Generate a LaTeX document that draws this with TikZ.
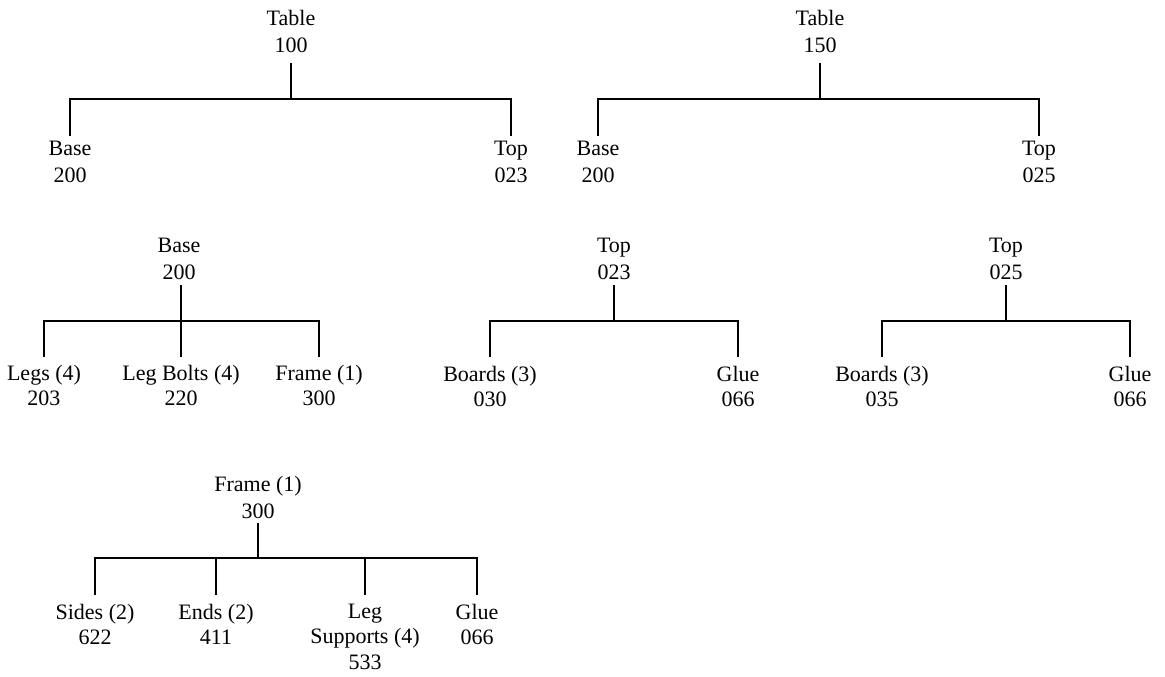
\documentclass[tikz,border=0pt]{standalone}
\usepackage{fontspec}
\setmainfont{Liberation Serif}
\begin{document}
\begin{tikzpicture}[x=1pt,y=-1pt,
  item/.style={align=center, inner sep=0pt, outer sep=0pt, anchor=north,
    font=\fontsize{22}{27.5}\selectfont},
  kid/.style={item, font=\fontsize{22}{25.5}\selectfont},
  conn/.style={line width=1.2pt, line cap=butt}]
\useasboundingbox (0,0) rectangle (1165,677);

% ---------- Tree 1: Table 100 ----------
\node[item] (t1p) at (291,10) {Table\\100};
\node[item] (t1a) at (70,141) {Base\\200};
\node[item] (t1b) at (511,141) {Top\\023};
\coordinate (s1) at (291,63);
\coordinate (b1) at (291,99);
\coordinate (e1) at (291,136);
\draw[conn] (t1p.south |- s1) -- (t1p.south |- b1);
\draw[conn] (t1a.north |- e1) |- (b1) -| (t1b.north |- e1);

% ---------- Tree 2: Table 150 ----------
\node[item] (t2p) at (820,10) {Table\\150};
\node[item] (t2a) at (598,141) {Base\\200};
\node[item] (t2b) at (1039,141) {Top\\025};
\coordinate (s2) at (820,63);
\coordinate (b2) at (820,99);
\coordinate (e2) at (820,136);
\draw[conn] (t2p.south |- s2) -- (t2p.south |- b2);
\draw[conn] (t2a.north |- e2) |- (b2) -| (t2b.north |- e2);

% ---------- Tree 3: Base 200 ----------
\node[item] (t3p) at (179,238) {Base\\200};
\node[kid] (t3a) at (44,365) {Legs (4)\\203};
\node[kid] (t3b) at (181,365) {Leg Bolts (4)\\220};
\node[kid] (t3c) at (319,365) {Frame (1)\\300};
\coordinate (s3) at (181,285);
\coordinate (b3) at (181,321);
\coordinate (e3) at (181,357);
\draw[conn] (t3b.north |- s3) -- (b3);
\draw[conn] (t3a.north |- e3) |- (b3) -| (t3c.north |- e3);
\draw[conn] (t3b.north |- e3) -- (b3);

% ---------- Tree 4: Top 023 ----------
\node[item] (t4p) at (614,238) {Top\\023};
\node[kid] (t4a) at (490,366) {Boards (3)\\030};
\node[kid] (t4b) at (738,366) {Glue\\066};
\coordinate (s4) at (614,285);
\coordinate (b4) at (614,321);
\coordinate (e4) at (614,357);
\draw[conn] (t4p.south |- s4) -- (t4p.south |- b4);
\draw[conn] (t4a.north |- e4) |- (b4) -| (t4b.north |- e4);

% ---------- Tree 5: Top 025 ----------
\node[item] (t5p) at (1006,238) {Top\\025};
\node[kid] (t5a) at (882,366) {Boards (3)\\035};
\node[kid] (t5b) at (1130,366) {Glue\\066};
\coordinate (s5) at (1006,285);
\coordinate (b5) at (1006,321);
\coordinate (e5) at (1006,357);
\draw[conn] (t5p.south |- s5) -- (t5p.south |- b5);
\draw[conn] (t5a.north |- e5) |- (b5) -| (t5b.north |- e5);

% ---------- Tree 6: Frame (1) 300 ----------
\node[item] (t6p) at (258,476) {Frame (1)\\300};
\node[kid] (t6a) at (95,604) {Sides (2)\\622};
\node[kid] (t6b) at (216,604) {Ends (2)\\411};
\node[kid] (t6c) at (365,604) {Leg\\Supports (4)\\533};
\node[kid] (t6d) at (477,604) {Glue\\066};
\coordinate (s6) at (258,523);
\coordinate (b6) at (258,558);
\coordinate (e6) at (258,595);
\draw[conn] (t6p.south |- s6) -- (t6p.south |- b6);
\draw[conn] (t6a.north |- e6) |- (b6) -| (t6d.north |- e6);
\draw[conn] (t6b.north |- e6) -- (t6b.north |- b6);
\draw[conn] (t6c.north |- e6) -- (t6c.north |- b6);
\end{tikzpicture}
\end{document}
